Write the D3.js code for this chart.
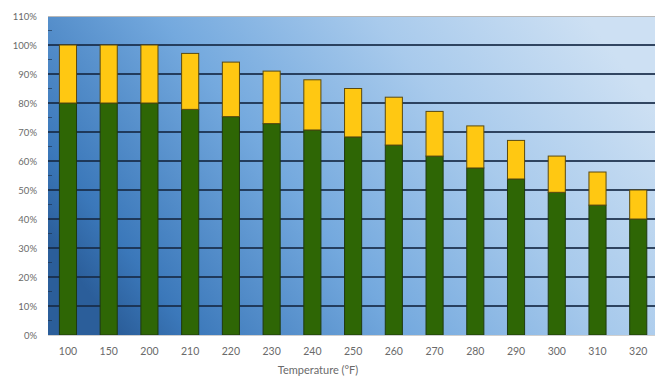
<!DOCTYPE html>
<html><head><meta charset="utf-8">
<script src="https://cdn.jsdelivr.net/npm/d3@7"></script>
<style>html,body{margin:0;padding:0;background:#fff;overflow:hidden}</style>
</head><body>
<svg id="chart" width="655" height="380"></svg>
<script>
const categories = ["100","150","200","210","220","230","240","250","260","270","280","290","300","310","320"];
const greenValues = [80,80,80,77.8,75.3,72.9,70.7,68.3,65.5,61.7,57.6,53.8,49.2,44.8,40];
const totalValues = [100,100,100,97.1,94.1,91,88,85,82,77.1,72.1,67.1,61.7,56.2,50];
const yTicks = [0,10,20,30,40,50,60,70,80,90,100,110];
const xTitle = "Temperature (\u00B0F)";

(function(){
const svg = d3.select("#chart");
const pL = 48, pR = 659, pT = 16, pB = 335;
const font = "Lato, 'Open Sans', sans-serif";

const x = d3.scaleBand().domain(categories).range([47.6, 658.6]).paddingInner(0.58).paddingOuter(0.29);
const y = d3.scaleLinear().domain([0,110]).range([pB, pT]);

const defs = svg.append("defs");
const g1 = defs.append("linearGradient").attr("id","bg").attr("x1","0").attr("y1","0.7").attr("x2","1").attr("y2","0.3");
[[0,"#2b5e9a"],[0.1,"#3b78ba"],[0.4,"#74a9de"],[0.7,"#a8caec"],[1,"#cde0f3"]].forEach(s=>g1.append("stop").attr("offset",s[0]).attr("stop-color",s[1]));

svg.append("rect").attr("x",pL).attr("y",pT).attr("width",pR-pL).attr("height",pB-pT).attr("fill","url(#bg)");
svg.append("line").attr("x1",pL).attr("x2",pR).attr("y1",pT+0.5).attr("y2",pT+0.5).attr("stroke","#b8b8b8").attr("stroke-width",1);

svg.append("g").selectAll("line").data(yTicks.filter(t=>t>0 && t<110)).join("line")
  .attr("x1",pL).attr("x2",pR).attr("y1",d=>y(d)).attr("y2",d=>y(d))
  .attr("stroke","#182c48").attr("stroke-width",1.8).attr("opacity",0.85);

svg.append("g").selectAll("line").data(d3.range(5,110,10)).join("line")
  .attr("x1",pL).attr("x2",pL+4).attr("y1",d=>y(d)).attr("y2",d=>y(d))
  .attr("stroke","#1c2c44").attr("stroke-width",1).attr("opacity",0.6);

const bars = svg.append("g");
bars.selectAll("rect.g").data(categories).join("rect").attr("class","g")
  .attr("x",d=>x(d)).attr("width",x.bandwidth())
  .attr("y",(d,i)=>y(greenValues[i])).attr("height",(d,i)=>pB-y(greenValues[i]))
  .attr("fill","#2e6605").attr("stroke","#1f3a10").attr("stroke-width",1);
bars.selectAll("rect.y").data(categories).join("rect").attr("class","y")
  .attr("x",d=>x(d)).attr("width",x.bandwidth())
  .attr("y",(d,i)=>y(totalValues[i])).attr("height",(d,i)=>y(greenValues[i])-y(totalValues[i]))
  .attr("fill","#ffc812").attr("stroke","#5a4a10").attr("stroke-width",1);

const yAxis = svg.append("g").attr("transform",`translate(${pL},0)`)
  .call(d3.axisLeft(y).tickValues(yTicks).tickFormat(d=>d+"%").tickSize(0).tickPadding(11));
yAxis.select(".domain").remove();
yAxis.selectAll("text").attr("font-family",font).attr("font-size",9.5).attr("fill","#6a6a6a");

const xAxis = svg.append("g").attr("transform",`translate(0,${pB})`)
  .call(d3.axisBottom(x).tickSize(0).tickPadding(13));
xAxis.select(".domain").attr("stroke","#cfcfcf");
xAxis.selectAll("text").attr("font-family",font).attr("font-size",10.5).attr("fill","#6a6a6a");

svg.append("text").attr("x",318).attr("y",374).attr("text-anchor","middle")
  .attr("font-family",font).attr("font-size",11).attr("fill","#6a6a6a").text(xTitle);
})();
</script>
</body></html>
